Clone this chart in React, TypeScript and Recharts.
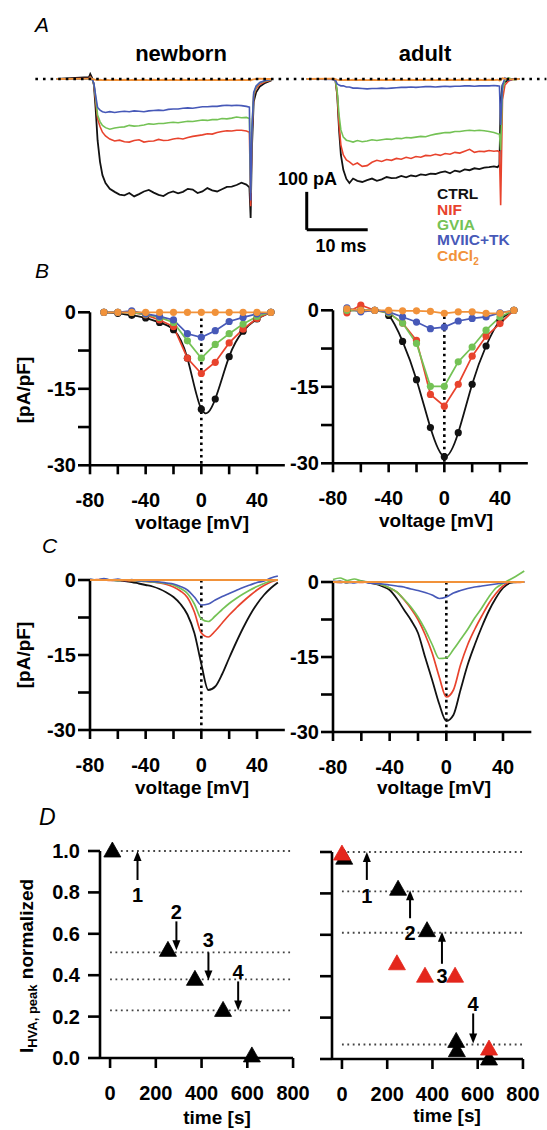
import React from 'react';
import {
  LineChart, Line, XAxis, YAxis, ReferenceLine, ReferenceDot, ScatterChart, Scatter,
} from 'recharts';

const FONT = '"Liberation Sans", Arial, Helvetica, sans-serif';
const COL = { ctrl: '#121212', nif: '#e8432d', gvia: '#74c255', mviic: '#4759b8', cd: '#f1923a' };

// ---------------- Panel A: current traces (time in ms, current in pA) ----------------
const nbTime = [
  9.3, 14.6, 14.8, 15.1, 15.4, 15.7, 16.0, 16.4, 16.8, 17.3,
  18.0, 18.8, 19.6, 20.4, 21.2, 22.0, 22.8, 23.6, 24.4, 25.2,
  26.0, 26.8, 27.6, 28.4, 29.2, 30.0, 30.8, 31.6, 32.4, 33.2,
  34.0, 34.8, 35.6, 36.4, 37.2, 38.0, 38.8, 39.6, 40.4, 40.9,
  41.1, 41.3, 41.6, 42.0, 42.6, 43.5, 44.5,
];
const nbCTRL = [
  0, 5, 13, 3, -16, -82, -161, -218, -253, -274,
  -289, -297, -304, -306, -300, -309, -303, -296, -292, -299,
  -305, -308, -300, -296, -301, -297, -289, -291, -300, -296,
  -287, -293, -296, -290, -284, -283, -279, -273, -278, -285,
  -366, -187, -60, -35, -20, -10, -4,
];
const nbNIF = [
  0, 2, 6, 1, -14, -60, -105, -125, -140, -150,
  -158, -163, -161, -165, -166, -162, -160, -166, -164, -163,
  -159, -162, -161, -158, -156, -158, -154, -151, -149, -147,
  -144, -145, -141, -138, -136, -137, -135, -135, -137, -140,
  -335, -150, -45, -25, -14, -7, -3,
];
const nbGVIA = [
  0, 1, 4, 0, -13, -50, -95, -112, -122, -128,
  -132, -129, -127, -126, -122, -124, -123, -121, -118, -119,
  -117, -117, -115, -114, -115, -113, -111, -112, -110, -108,
  -109, -107, -107, -104, -105, -103, -100, -102, -101, -104,
  -300, -130, -40, -20, -10, -5, -2,
];
const nbMVIIC = [
  0, 1, 3, 0, -12, -45, -75, -82, -86, -88,
  -86, -88, -86, -85, -86, -84, -85, -86, -84, -83,
  -82, -83, -80, -79, -79, -77, -76, -77, -75, -73,
  -73, -72, -72, -70, -69, -70, -69, -70, -72, -74,
  -320, -140, -35, -18, -9, -4, -1,
];
const nbCd = [
  0, 1, 2, 0, -1, -2, -3, -2, -3, -2,
  -3, -2, -3, -2, -3, -2, -3, -2, -3, -2,
  -3, -2, -3, -2, -3, -2, -3, -2, -3, -2,
  -3, -2, -3, -2, -3, -2, -3, -2, -3, -2,
  -4, -2, -1, 0, 1, 0, 0,
];

const adTime = [
  50.3, 54.6, 55.0, 55.3, 55.6, 55.9, 56.3, 56.8, 57.3, 57.9,
  58.6, 59.4, 60.2, 61.0, 61.8, 62.6, 63.4, 64.2, 65.0, 65.8,
  66.6, 67.4, 68.2, 69.0, 69.8, 70.6, 71.4, 72.2, 73.0, 73.8,
  74.6, 75.4, 76.2, 77.0, 77.8, 78.6, 79.4, 80.2, 81.0, 81.6,
  81.9, 82.1, 82.4, 82.8, 83.4, 84.2, 85.2,
];
const adCTRL = [
  0, 0, -3, -42, -134, -200, -239, -263, -274, -262,
  -268, -271, -266, -262, -268, -264, -258, -261, -260, -255,
  -259, -254, -256, -251, -253, -249, -250, -246, -243, -248,
  -241, -244, -238, -240, -235, -237, -233, -232, -230, -232,
  -226, -55, -16, -8, -3, 0, 0,
];
const adNIF = [
  0, 0, -3, -42, -121, -174, -200, -213, -218, -226,
  -221, -230, -228, -219, -214, -217, -212, -214, -209, -211,
  -206, -209, -204, -206, -201, -202, -198, -201, -196, -198,
  -193, -195, -190, -185, -193, -190, -191, -188, -190, -189,
  -192, -332, -55, -16, -5, 0, 0,
];
const adGVIA = [
  0, 0, -2, -34, -95, -134, -153, -161, -163, -166,
  -162, -165, -163, -160, -162, -160, -158, -159, -156, -157,
  -154, -155, -153, -151, -152, -148, -145, -143, -141, -141,
  -138, -138, -136, -135, -136, -135, -136, -138, -141, -144,
  -145, -187, -29, -3, 3, -2, 0,
];
const adMVIIC = [
  0, -1, -3, -13, -16, -18, -18, -21, -21, -24,
  -24, -25, -26, -25, -25, -24, -25, -24, -23, -22,
  -22, -21, -22, -21, -20, -20, -21, -20, -19, -20,
  -19, -19, -18, -18, -19, -18, -18, -18, -17, -18,
  -19, -121, -16, 3, -3, 0, 0,
];
const adCd = [
  0, 1, 0, -2, -3, -2, -3, -2, -3, -2,
  -3, -2, -3, -2, -3, -2, -3, -2, -3, -2,
  -3, -2, -3, -2, -3, -2, -3, -2, -3, -2,
  -3, -2, -3, -2, -3, -2, -3, -2, -3, -2,
  -4, -3, 2, 1, 0, -1, 0,
];

// scale bar (10 ms, 100 pA)
const scaleBarT = [50.3, 60.3];
const scaleBarI = [-297, -397];

// ---------------- Panel B: I-V step protocol (mV, pA/pF) ----------------
const bV = [-70, -60, -50, -40, -30, -20, -10, 0, 10, 20, 30, 40, 50];
const bNbCTRL = [0, -0.2, -0.6, -1.1, -2.0, -3.4, -9.0, -19.0, -17.0, -8.7, -3.7, -1.3, 0];
const bNbNIF = [0, 0, 0, -0.5, -1.5, -2.8, -9.0, -12.0, -9.8, -6.0, -3.3, -1.2, 0];
const bNbGVIA = [0, 0, 0, -0.4, -1.0, -2.0, -5.6, -9.0, -6.3, -4.2, -2.3, -0.8, 0];
const bNbMVIIC = [0, 0, 0.3, -0.3, -0.8, -1.5, -4.2, -4.9, -3.6, -1.8, -1.0, -0.3, 0];
const bNbCd = [0, 0, 0, 0, 0, 0, 0, 0, 0, 0, 0, 0, 0];
const bAdCTRL = [0, 0, 0, -1.0, -6.1, -13.6, -23.0, -28.7, -24.0, -14.5, -7.0, -2.0, 0];
const bAdNIF = [-0.5, 1.0, 0, -0.5, -2.5, -5.9, -16.5, -18.8, -14.5, -9.0, -5.1, -2.6, 0];
const bAdGVIA = [0, 0, 0, -0.5, -2.5, -6.5, -14.9, -14.9, -10.1, -7.2, -3.9, -1.3, 0];
const bAdMVIIC = [0.5, -0.3, 0, -0.3, -1.3, -2.3, -3.6, -3.3, -2.1, -1.6, -1.3, -0.5, 0];
const bAdCd = [0.3, 0, 0, 0, -0.1, -0.1, -0.2, -0.6, -0.3, -0.3, -0.6, -0.6, 0];

// ---------------- Panel C: ramp I-V (mV, pA/pF) ----------------
const cV = [-80, -75, -70, -65, -60, -55, -50, -45, -40, -35, -30, -25, -20, -15, -10, -5, 0, 5, 10, 15, 20, 25, 30, 35, 40, 45, 50, 55];
const cNbCTRL = [0, 0, 0.1, 0, -0.1, -0.2, -0.4, -0.7, -1.0, -1.3, -1.8, -2.5, -3.4, -4.8, -6.9, -10.6, -16.8, -22.0, -21.3, -18.8, -15.6, -12.5, -9.6, -7.0, -4.8, -3.0, -1.6, -0.5];
const cNbNIF = [0, 0.1, 0, -0.1, 0, -0.1, -0.2, -0.2, -0.3, -0.4, -0.6, -0.9, -1.4, -2.2, -3.5, -6.4, -10.6, -11.4, -10.2, -8.6, -7.0, -5.6, -4.3, -3.1, -2.0, -1.1, -0.4, 0];
const cNbGVIA = [0.1, 0, 0.1, 0, -0.1, 0, -0.1, -0.2, -0.3, -0.4, -0.5, -0.7, -1.0, -1.7, -2.7, -4.8, -7.8, -8.3, -7.2, -5.9, -4.7, -3.7, -2.8, -2.0, -1.3, -0.7, -0.2, 0];
const cNbMVIIC = [0.2, 0, 0.3, 0, 0.2, -0.1, 0.1, -0.2, -0.2, -0.3, -0.4, -0.6, -0.8, -1.3, -2.0, -3.4, -5.0, -4.8, -4.0, -3.3, -2.7, -2.1, -1.5, -1.0, -0.5, -0.2, 0.4, 0.8];
const cNbCd = [0, 0, 0, 0, 0, 0, 0, 0, 0, 0, 0, 0, 0, 0, 0, 0, 0, 0, 0, 0, 0, 0, 0, 0, 0, 0, 0, 0];
const cAdCTRL = [0, 0.1, -0.1, 0, 0.1, -0.1, -0.4, -0.9, -1.6, -3.3, -5.5, -7.6, -10.2, -15.0, -19.6, -24.4, -27.8, -26.6, -21.6, -16.6, -12.6, -9.0, -5.8, -3.2, -1.2, -0.2, 0, 0];
const cAdNIF = [0, -0.1, 0.1, 0, -0.1, 0, -0.3, -0.6, -1.2, -2.0, -3.5, -5.3, -7.5, -10.5, -14.2, -19.0, -23.0, -21.6, -16.6, -12.6, -9.5, -6.8, -4.3, -2.3, -0.8, 0, -0.1, 0];
const cAdGVIA = [0.5, 0.8, 0.3, 0.6, 0.2, 0, -0.3, -0.6, -1.2, -2.0, -3.4, -5.0, -7.0, -9.5, -12.5, -15.3, -15.2, -13.5, -11.5, -9.5, -7.2, -5.2, -3.0, -1.2, -0.3, 0.5, 1.3, 2.2];
const cAdMVIIC = [0.2, -0.1, 0, -0.2, 0.1, -0.2, -0.3, -0.4, -0.6, -0.8, -1.0, -1.4, -1.7, -2.1, -2.6, -3.3, -3.0, -2.2, -1.7, -1.3, -1.0, -0.8, -0.6, -0.4, -0.2, 0, 0, 0];
const cAdCd = [0, 0, 0, 0, 0, 0, 0, 0, 0, 0, 0, 0, 0, 0, 0, 0, 0, 0, 0, 0, 0, 0, 0, 0, 0, 0, 0, 0];

// ---------------- Panel D: normalized peak vs time ----------------
const dNbBlackT = [10, 253, 371, 494, 620];
const dNbBlackY = [1.0, 0.52, 0.38, 0.23, 0.01];
const dNbDotted = [1.0, 0.51, 0.38, 0.23, 0.0];
const dNbArrowT = [120, 290, 430, 560];
const dNbArrowFrom = [0.86, 0.66, 0.51, 0.37];
const dNbArrowTo = [1.0, 0.52, 0.375, 0.23];
const dNbLabelY = [0.79, 0.705, 0.57, 0.415];

const dAdBlackT = [10, 248, 376, 505, 508, 650];
const dAdBlackY = [0.97, 0.82, 0.62, 0.085, 0.04, 0.0];
const dAdRedT = [0, 243, 367, 500, 650];
const dAdRedY = [0.99, 0.46, 0.40, 0.40, 0.048];
const dAdDotted = [1.0, 0.81, 0.61, 0.07];
const dAdArrowT = [110, 301, 442, 580];
const dAdArrowFrom = [0.865, 0.68, 0.46, 0.22];
const dAdArrowTo = [1.0, 0.815, 0.615, 0.075];
const dAdLabelY = [0.79, 0.61, 0.40, 0.265];

const arrowNames = ['1', '2', '3', '4'];

// ---------------- helpers ----------------
const TICK_TEXT = { fontFamily: FONT, fontWeight: 700, fontSize: 20, fill: '#000' } as const;

const xTickFactory = (labels: number[], dy: number, fmt: (v: number) => string) => (props: any) => {
  const { x, y, payload } = props;
  const v = payload?.value;
  if (!labels.some((l) => Math.abs(l - v) < 1e-6)) return <g />;
  return (
    <text x={x} y={y} dy={dy} textAnchor="middle" {...TICK_TEXT}>{fmt(v)}</text>
  );
};
const yTickFactory = (labels: number[], fmt: (v: number) => string) => (props: any) => {
  const { x, y, payload } = props;
  const v = payload?.value;
  if (!labels.some((l) => Math.abs(l - v) < 1e-6)) return <g />;
  return (
    <text x={x} y={y} dy={7} textAnchor="end" {...TICK_TEXT}>{fmt(v)}</text>
  );
};
const emptyTick = () => <g />;

const zip = (xs: number[], ys: number[], xk: string, yk: string) =>
  xs.map((x, i) => ({ [xk]: x, [yk]: ys[i] }));

// ---------------- Panel A ----------------
function PanelA() {
  const traces = [
    { t: nbTime, v: nbCTRL, c: COL.ctrl, w: 1.8 },
    { t: nbTime, v: nbNIF, c: COL.nif, w: 1.6 },
    { t: nbTime, v: nbGVIA, c: COL.gvia, w: 1.6 },
    { t: nbTime, v: nbMVIIC, c: COL.mviic, w: 1.6 },
    { t: nbTime, v: nbCd, c: COL.cd, w: 1.8 },
    { t: adTime, v: adCTRL, c: COL.ctrl, w: 1.8 },
    { t: adTime, v: adNIF, c: COL.nif, w: 1.6 },
    { t: adTime, v: adGVIA, c: COL.gvia, w: 1.6 },
    { t: adTime, v: adMVIIC, c: COL.mviic, w: 1.6 },
    { t: adTime, v: adCd, c: COL.cd, w: 1.8 },
  ];
  return (
    <div style={{ position: 'absolute', left: 0, top: 3 }}>
      <LineChart width={547} height={266} margin={{ top: 0, right: 0, bottom: 0, left: 0 }}>
        <XAxis dataKey="t" type="number" domain={[0, 89.7]} hide height={0} />
        <YAxis type="number" domain={[-500, 200]} hide width={0} />
        {traces.map((tr, i) => (
          <Line
            key={i}
            data={zip(tr.t, tr.v, 't', 'v')}
            dataKey="v"
            type="linear"
            stroke={tr.c}
            strokeWidth={tr.w}
            dot={false}
            isAnimationActive={false}
          />
        ))}
        <ReferenceLine
          segment={[{ x: 5.8, y: 0 }, { x: 89.6, y: 0 }]}
          stroke="#000"
          strokeWidth={2.6}
          strokeDasharray="2.6 5"
        />
        <ReferenceLine
          segment={[{ x: scaleBarT[0], y: scaleBarI[0] }, { x: scaleBarT[0], y: scaleBarI[1] }]}
          stroke="#000"
          strokeWidth={3}
        />
        <ReferenceLine
          segment={[{ x: scaleBarT[0], y: scaleBarI[1] }, { x: scaleBarT[1], y: scaleBarI[1] }]}
          stroke="#000"
          strokeWidth={3}
        />
      </LineChart>
    </div>
  );
}

// ---------------- Panels B / C ----------------
type S = { key: string; values: number[]; color: string; curve: 'linear' | 'natural' | 'monotone'; dots: boolean; w: number };

function IVChart(props: { xs: number[]; series: S[]; x80: number; x40: number; y0: number; y30: number }) {
  const { xs, series, x80, x40, y0, y30 } = props;
  const ppx = (x40 - x80) / 120;
  const ppy = (y30 - y0) / 30;
  const plotLeft = x80;
  const plotW = ppx * 140;
  const plotTop = y0 - 3 * ppy;
  const plotH = ppy * 33;
  const YW = 80, XH = 50, MT = 2, MR = 4;
  const data = xs.map((v, i) => {
    const row: any = { v };
    series.forEach((s) => { row[s.key] = s.values[i]; });
    return row;
  });
  return (
    <div style={{ position: 'absolute', left: plotLeft - YW, top: plotTop - MT }}>
      <LineChart width={YW + plotW + MR} height={MT + plotH + XH} data={data} margin={{ top: MT, right: MR, bottom: 0, left: 0 }}>
        <XAxis
          dataKey="v"
          type="number"
          domain={[-80, 60]}
          ticks={[-80, -60, -40, -20, 0, 20, 40]}
          interval={0}
          height={XH}
          tickSize={9}
          tickMargin={2}
          axisLine={{ stroke: '#000', strokeWidth: 2.6 }}
          tickLine={{ stroke: '#000', strokeWidth: 2.6 }}
          tick={xTickFactory([-80, -40, 0, 40], 31, (v) => String(v))}
        />
        <YAxis
          type="number"
          domain={[-30, 3]}
          ticks={[-30, -22.5, -15, -7.5, 0]}
          interval={0}
          width={YW}
          tickSize={12}
          tickMargin={2}
          axisLine={false}
          tickLine={{ stroke: '#000', strokeWidth: 2.6 }}
          tick={yTickFactory([-30, -15, 0], (v) => String(v))}
        />
        <ReferenceLine segment={[{ x: -80, y: 0 }, { x: -80, y: -30 }]} stroke="#000" strokeWidth={2.6} />
        <ReferenceLine segment={[{ x: 0, y: 0 }, { x: 0, y: -30 }]} stroke="#000" strokeWidth={2.6} strokeDasharray="2.6 3.6" />
        {series.map((s) => (
          <Line
            key={s.key}
            dataKey={s.key}
            type={s.curve}
            stroke={s.color}
            strokeWidth={s.w}
            dot={s.dots ? { r: 3.6, fill: s.color, stroke: s.color, strokeWidth: 0 } : false}
            activeDot={false}
            isAnimationActive={false}
          />
        ))}
      </LineChart>
    </div>
  );
}

const mkSeries = (vals: number[][], dots: boolean, blackCurve: 'natural' | 'monotone', otherCurve: 'linear' | 'monotone'): S[] => [
  { key: 'ctrl', values: vals[0], color: COL.ctrl, curve: blackCurve, dots, w: 1.8 },
  { key: 'nif', values: vals[1], color: COL.nif, curve: otherCurve, dots, w: 1.7 },
  { key: 'gvia', values: vals[2], color: COL.gvia, curve: otherCurve, dots, w: 1.7 },
  { key: 'mviic', values: vals[3], color: COL.mviic, curve: otherCurve, dots, w: 1.7 },
  { key: 'cd', values: vals[4], color: COL.cd, curve: otherCurve, dots, w: 1.8 },
];

// ---------------- Panel D ----------------
const triShape = (color: string) => (p: any) => {
  const { cx, cy } = p;
  if (cx == null || cy == null) return <g />;
  return <polygon points={`${cx},${cy - 9} ${cx - 8.5},${cy + 6} ${cx + 8.5},${cy + 6}`} fill={color} stroke={color} strokeWidth={0.8} strokeLinejoin="round" />;
};

const arrowShape = (p: any) => {
  const { x1, y1, x2, y2 } = p;
  if ([x1, y1, x2, y2].some((v) => v == null || Number.isNaN(v))) return <g />;
  const dir = y2 > y1 ? 1 : -1;
  const hl = 10, hw = 4;
  return (
    <g>
      <line x1={x1} y1={y1} x2={x2} y2={y2 - dir * (hl - 2)} stroke="#000" strokeWidth={2} />
      <polygon points={`${x2},${y2} ${x2 - hw},${y2 - dir * hl} ${x2 + hw},${y2 - dir * hl}`} fill="#000" />
    </g>
  );
};

function TimeChart(props: {
  x0: number; x800: number; y0: number; y1: number; showYLabels: boolean;
  blackT: number[]; blackY: number[]; redT?: number[]; redY?: number[];
  dotted: number[]; arrowT: number[]; arrowFrom: number[]; arrowTo: number[]; labelY: number[];
}) {
  const { x0, x800, y0, y1, showYLabels } = props;
  const ppt = (x800 - x0) / 800;
  const plotLeft = x0 - 44 * ppt;
  const plotW = x800 - plotLeft;
  const plotTop = y1;
  const plotH = y0 - y1;
  const YW = 80, XH = 50, MT = 12, MR = 24;
  const black = zip(props.blackT, props.blackY, 't', 'y');
  const red = props.redT && props.redY ? zip(props.redT, props.redY, 't', 'y') : [];
  return (
    <div style={{ position: 'absolute', left: plotLeft - YW, top: plotTop - MT }}>
      <ScatterChart width={YW + plotW + MR} height={MT + plotH + XH} margin={{ top: MT, right: MR, bottom: 0, left: 0 }}>
        <XAxis
          dataKey="t"
          type="number"
          domain={[-44, 800]}
          ticks={[0, 200, 400, 600, 800]}
          interval={0}
          height={XH}
          tickSize={10}
          tickMargin={2}
          axisLine={{ stroke: '#000', strokeWidth: 2.6 }}
          tickLine={{ stroke: '#000', strokeWidth: 2.6 }}
          tick={xTickFactory([0, 200, 400, 600, 800], 30, (v) => String(v))}
        />
        <YAxis
          dataKey="y"
          type="number"
          domain={[0, 1]}
          ticks={[0, 0.2, 0.4, 0.6, 0.8, 1.0]}
          interval={0}
          width={YW}
          tickSize={12}
          tickMargin={8}
          axisLine={{ stroke: '#000', strokeWidth: 2.6 }}
          tickLine={{ stroke: '#000', strokeWidth: 2.6 }}
          tick={showYLabels ? yTickFactory([0, 0.2, 0.4, 0.6, 0.8, 1.0], (v) => v.toFixed(1)) : emptyTick}
        />
        {props.dotted.map((v, i) => (
          <ReferenceLine
            key={`d${i}`}
            segment={[{ x: 0, y: v }, { x: 800, y: v }]}
            stroke="#444"
            strokeWidth={1.8}
            strokeDasharray="1.8 3.6"
          />
        ))}
        {props.arrowT.map((t, i) => (
          <ReferenceLine
            key={`a${i}`}
            segment={[{ x: t, y: props.arrowFrom[i] }, { x: t, y: props.arrowTo[i] }]}
            shape={arrowShape}
          />
        ))}
        {props.arrowT.map((t, i) => (
          <ReferenceDot
            key={`l${i}`}
            x={t}
            y={props.labelY[i]}
            r={0}
            fill="none"
            stroke="none"
            label={{ value: arrowNames[i], position: 'center', fill: '#000', fontSize: 20, fontWeight: 700, fontFamily: FONT }}
          />
        ))}
        <Scatter data={black} shape={triShape('#000')} isAnimationActive={false} />
        {red.length > 0 && <Scatter data={red} shape={triShape('#e4261c')} isAnimationActive={false} />}
      </ScatterChart>
    </div>
  );
}

// ---------------- Text overlay ----------------
function Overlay() {
  const bold = { fontFamily: FONT, fontWeight: 700, fill: '#000' } as const;
  const letter = { fontFamily: FONT, fontStyle: 'italic', fontSize: 21, fill: '#000' } as const;
  return (
    <svg width={547} height={1130} style={{ position: 'absolute', left: 0, top: 0, pointerEvents: 'none' }}>
      <text x={35} y={32} {...letter}>A</text>
      <text x={35} y={278} {...letter}>B</text>
      <text x={42} y={553} {...letter}>C</text>
      <text x={39} y={825} {...letter} fontSize={23}>D</text>

      <text x={181} y={61} textAnchor="middle" {...bold} fontSize={22}>newborn</text>
      <text x={425} y={61} textAnchor="middle" {...bold} fontSize={22}>adult</text>

      <text x={337} y={185} textAnchor="end" {...bold} fontSize={18}>100 pA</text>
      <text x={341} y={252} textAnchor="middle" {...bold} fontSize={18}>10 ms</text>

      <text x={437} y={199} {...bold} fontSize={15.5} fill={COL.ctrl}>CTRL</text>
      <text x={437} y={214.5} {...bold} fontSize={15.5} fill={COL.nif}>NIF</text>
      <text x={437} y={230} {...bold} fontSize={15.5} fill={COL.gvia}>GVIA</text>
      <text x={437} y={245} {...bold} fontSize={15.5} fill={COL.mviic}>MVIIC+TK</text>
      <text x={437} y={261} {...bold} fontSize={15.5} fill={COL.cd}>CdCl<tspan fontSize={10} dy={4}>2</tspan></text>

      <text transform="rotate(-90 30 390)" x={30} y={390} textAnchor="middle" {...bold} fontSize={19}>[pA/pF]</text>
      <text transform="rotate(-90 30 655)" x={30} y={655} textAnchor="middle" {...bold} fontSize={19}>[pA/pF]</text>

      <text x={192} y={529} textAnchor="middle" {...bold} fontSize={19}>voltage [mV]</text>
      <text x={436} y={527} textAnchor="middle" {...bold} fontSize={19}>voltage [mV]</text>
      <text x={192} y={794} textAnchor="middle" {...bold} fontSize={19}>voltage [mV]</text>
      <text x={434} y={794} textAnchor="middle" {...bold} fontSize={19}>voltage [mV]</text>

      <text x={217} y={1124} textAnchor="middle" {...bold} fontSize={19}>time [s]</text>
      <text x={447} y={1122} textAnchor="middle" {...bold} fontSize={19}>time [s]</text>

      <text transform="rotate(-90 33 966)" x={33} y={966} textAnchor="middle" {...bold} fontSize={19}>
        I<tspan fontSize={13} dy={4}>HVA, peak</tspan><tspan dy={-4}> normalized</tspan>
      </text>
    </svg>
  );
}

export default function App() {
  return (
    <div style={{ position: 'absolute', left: 0, top: 0, width: 547, height: 1130, background: '#fff', overflow: 'hidden' }}>
      <PanelA />
      <IVChart xs={bV} series={mkSeries([bNbCTRL, bNbNIF, bNbGVIA, bNbMVIIC, bNbCd], true, 'natural', 'linear')} x80={90} x40={257} y0={312} y30={465} />
      <IVChart xs={bV} series={mkSeries([bAdCTRL, bAdNIF, bAdGVIA, bAdMVIIC, bAdCd], true, 'natural', 'linear')} x80={333} x40={500} y0={310} y30={463} />
      <IVChart xs={cV} series={mkSeries([cNbCTRL, cNbNIF, cNbGVIA, cNbMVIIC, cNbCd], false, 'monotone', 'monotone')} x80={90} x40={257} y0={580} y30={730} />
      <IVChart xs={cV} series={mkSeries([cAdCTRL, cAdNIF, cAdGVIA, cAdMVIIC, cAdCd], false, 'monotone', 'monotone')} x80={333} x40={503} y0={582} y30={732} />
      <TimeChart
        x0={110} x800={293} y0={1058} y1={851} showYLabels
        blackT={dNbBlackT} blackY={dNbBlackY}
        dotted={dNbDotted} arrowT={dNbArrowT} arrowFrom={dNbArrowFrom} arrowTo={dNbArrowTo} labelY={dNbLabelY}
      />
      <TimeChart
        x0={342} x800={523} y0={1059} y1={852} showYLabels={false}
        blackT={dAdBlackT} blackY={dAdBlackY} redT={dAdRedT} redY={dAdRedY}
        dotted={dAdDotted} arrowT={dAdArrowT} arrowFrom={dAdArrowFrom} arrowTo={dAdArrowTo} labelY={dAdLabelY}
      />
      <Overlay />
    </div>
  );
}
